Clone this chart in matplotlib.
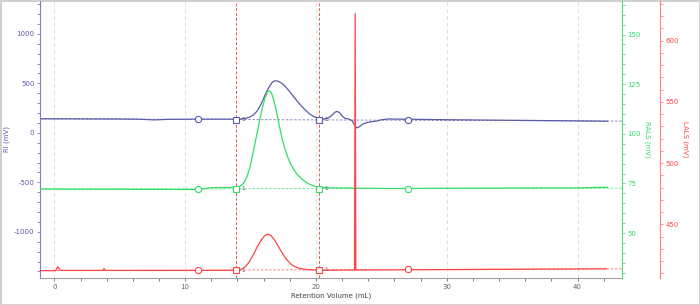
import matplotlib
matplotlib.use("Agg")
import matplotlib.pyplot as plt
from matplotlib.ticker import MultipleLocator

plt.rcParams["axes.unicode_minus"] = False

# colours
c_ri = "#5a5aaa"
c_rals = "#33dd66"
c_lals = "#ff4444"

# RI trace (mL, mV)
ri_x = [-1.1, 0, 5, 6.5, 7.6, 8.8, 11, 13.85, 14.3, 14.6, 14.9, 15.2, 15.5, 15.8,
        16.1, 16.4, 16.65, 16.85, 17.1, 17.4, 17.7, 18.0, 18.3, 18.6, 18.9, 19.2,
        19.5, 19.8, 20.1, 20.4, 20.6, 20.9, 21.2, 21.45, 21.6, 21.8, 22.0, 22.2,
        22.5, 22.75, 22.95, 23.1, 23.3, 23.6, 23.9, 24.2, 24.6, 25.0, 25.5, 27, 30,
        35, 40, 42.3]
ri_y = [142, 142, 140, 138, 131, 137, 139, 139, 141, 146, 158, 180, 220, 290,
        380, 460, 510, 526, 522, 500, 462, 415, 365, 315, 270, 228,
        193, 168, 150, 142, 141, 148, 175, 208, 217, 205, 170, 148,
        140, 125, 80, 50, 60, 90, 105, 112, 118, 132, 140, 138, 133,
        127, 121, 118]

# RALS trace (mL, mV)
rals_x = [-1.1, 5, 10, 11, 12.0, 13.85, 14.0, 14.3, 14.5, 14.7, 14.9, 15.1, 15.3,
          15.5, 15.7, 15.9, 16.1, 16.3, 16.45, 16.6, 16.8, 17.0, 17.2, 17.4, 17.6,
          17.8, 18.0, 18.3, 18.6, 19.0, 19.4, 19.8, 20.2, 21, 25, 27, 30, 35, 40, 42.3]
rals_y = [72.2, 72.1, 72.0, 72.0, 72.9, 73.0, 73.2, 74, 75.5, 78, 82, 87.5, 94,
          100.5, 107, 113, 118, 121.3, 121.7, 120.5, 116.5, 110.5, 104, 98, 93,
          89, 85.8, 82, 79.3, 76.8, 75, 73.8, 73.1, 72.8, 72.5, 72.5, 72.6, 72.7, 72.8, 73.1]

# LALS trace (mL, mV)
lals_x = [-1.1, 0.1, 0.25, 0.4, 0.6, 3.7, 3.8, 3.9, 11, 13.85, 14.0, 14.3, 14.6,
          14.9, 15.2, 15.5, 15.8, 16.05, 16.3, 16.55, 16.8, 17.05, 17.3, 17.55,
          17.8, 18.1, 18.4, 18.8, 19.3, 20.2, 22.95, 23.0, 23.05, 27, 35, 42.2]
lals_y = [412.3, 412.3, 415.5, 413, 412.5, 412.5, 414, 412.5, 412.5, 412.6, 412.7,
          413.3, 415.5, 419.5, 425, 431.5, 437, 440.5, 442.1, 441, 437.8, 433.5,
          428.8, 424.5, 420.8, 417.5, 415.5, 414, 413.2, 412.6, 412.8, 622, 412.8,
          413, 413.4, 413.8]

# baselines (start, end)
base_x = [-1.1, 43.4]
ri_base = [142, 119]
rals_base = [72.2, 72.6]
lals_base = [412.3, 413.8]

# peak limits and baseline markers
limits = [13.85, 20.2]
circle_x = [11.0, 27.0]

fig = plt.figure(figsize=(7, 3.05), dpi=100)
fig.patch.set_edgecolor("#d0d0d0")
fig.patch.set_linewidth(2)
ax = fig.add_axes([40 / 700, 27 / 305, 582 / 700, 277 / 305])
ax2 = ax.twinx()
ax3 = ax.twinx()
ax3.spines["right"].set_position(("axes", 1 + 38 / 582))

fs = 5
ax.set_xlim(-1.1, 43.4)
ax.set_ylim(-1466, 1332)
ax2.set_ylim(27.4, 166.9)
ax3.set_ylim(406.3, 632.3)

ax.xaxis.set_major_locator(MultipleLocator(10))
ax.xaxis.set_minor_locator(MultipleLocator(2))
ax.yaxis.set_major_locator(MultipleLocator(500))
ax.yaxis.set_minor_locator(MultipleLocator(100))
ax2.yaxis.set_major_locator(MultipleLocator(25))
ax2.yaxis.set_minor_locator(MultipleLocator(5))
ax3.yaxis.set_major_locator(MultipleLocator(50))
ax3.yaxis.set_minor_locator(MultipleLocator(10))

for a in (ax, ax2, ax3):
    for s in a.spines.values():
        s.set_visible(False)
    a.patch.set_visible(False)

ax.spines["left"].set_visible(True)
ax.spines["left"].set_color("#8080c0")
ax.spines["bottom"].set_visible(True)
ax.spines["bottom"].set_color("#a0a0a0")
ax2.spines["right"].set_visible(True)
ax2.spines["right"].set_color("#55dd80")
ax3.spines["right"].set_visible(True)
ax3.spines["right"].set_color("#ff8080")

ax.tick_params(axis="x", which="both", colors="#666666", labelsize=fs, length=2, width=0.6, pad=2)
ax.tick_params(axis="y", which="both", colors="#8080c0", labelcolor=c_ri, labelsize=fs, length=2, width=0.6, pad=2)
ax2.tick_params(axis="y", which="both", colors="#55dd80", labelcolor=c_rals, labelsize=fs, length=2, width=0.6, pad=2)
ax3.tick_params(axis="y", which="both", colors="#ff8080", labelcolor=c_lals, labelsize=fs, length=2, width=0.6, pad=2)

ax.grid(axis="x", which="major", color="#dddddd", linestyle=(0, (4, 3)), linewidth=0.7)
ax.set_axisbelow(True)

ax.set_xlabel("Retention Volume (mL)", fontsize=fs, color="#444444", labelpad=2)
ax.set_ylabel("RI (mV)", fontsize=fs, color=c_ri)
ax.yaxis.set_label_coords(-30 / 582, 0.5)
ax2.set_ylabel("RALS (mV)", fontsize=fs, color=c_rals, rotation=270, labelpad=7)
ax3.set_ylabel("LALS (mV)", fontsize=fs, color=c_lals, rotation=270, labelpad=7)

for v in limits:
    ax.axvline(v, color="#ee5555", linestyle=(0, (3, 2)), linewidth=0.7)


def draw(a, xs, ys, base, color):
    a.plot(base_x, base, color=color, linestyle=(0, (3, 2)), linewidth=0.6, alpha=0.8)
    a.plot(xs, ys, color=color, linewidth=0.9)
    def by(v):
        return base[0] + (base[1] - base[0]) * (v - base_x[0]) / (base_x[1] - base_x[0])
    a.plot(circle_x, [by(v) for v in circle_x], "o", mfc="white", mec=color, ms=4.5, mew=0.8)
    a.plot(limits, [by(v) for v in limits], "s", mfc="white", mec=color, ms=4.5, mew=0.8)
    for v in limits:
        a.annotate("1", (v, by(v)), xytext=(4, 0), textcoords="offset points",
                   fontsize=4, color="#555555", va="center")


draw(ax, ri_x, ri_y, ri_base, c_ri)
draw(ax2, rals_x, rals_y, rals_base, c_rals)
draw(ax3, lals_x, lals_y, lals_base, c_lals)

fig.savefig("out.png", dpi=100)
